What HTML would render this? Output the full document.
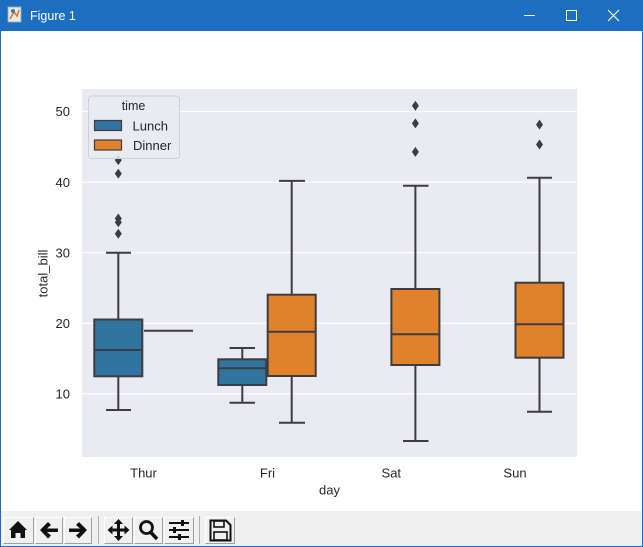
<!DOCTYPE html>
<html><head><meta charset="utf-8"><style>
html,body{margin:0;padding:0;background:#fff;}
body{width:643px;height:547px;overflow:hidden;position:relative;font-family:"Liberation Sans",Arial,sans-serif;}
svg{position:absolute;left:0;top:0;}
</style></head><body>
<svg width="643" height="547" viewBox="0 0 643 547" xmlns="http://www.w3.org/2000/svg" font-family="Liberation Sans, Arial, sans-serif">
<!-- window frame -->
<rect x="0" y="0" width="643" height="547" fill="#ffffff"/>
<rect x="0" y="0" width="643" height="31" fill="#1c6ec0"/>
<rect x="0" y="0" width="1" height="547" fill="#1c6ec0"/>
<rect x="642" y="0" width="1" height="547" fill="#1c6ec0"/>
<rect x="0" y="546" width="643" height="1" fill="#1c6ec0"/>
<!-- icon -->
<rect x="8" y="7" width="13" height="15" fill="#e8e8e8" stroke="#9ab" stroke-width="0.8"/>
<path d="M10 19 L14 12 L17 16 L19 10" stroke="#e07a1f" stroke-width="1.6" fill="none"/>
<circle cx="13" cy="11" r="2" fill="#3a77b5"/>
<text x="30" y="20" font-size="12.5" fill="#ffffff">Figure 1</text>
<!-- controls -->
<rect x="524" y="15" width="11" height="1" fill="#ffffff"/>
<rect x="566.5" y="10.5" width="10" height="10" fill="none" stroke="#ffffff" stroke-width="1"/>
<path d="M608 10 L619 21 M619 10 L608 21" stroke="#ffffff" stroke-width="1.1"/>

<!-- axes background -->
<rect x="82" y="89" width="495" height="368" fill="#eaeaf2"/>
<g stroke="#ffffff" stroke-width="1.2">
<line x1="82" x2="577" y1="111.5" y2="111.5"/>
<line x1="82" x2="577" y1="182.1" y2="182.1"/>
<line x1="82" x2="577" y1="252.7" y2="252.7"/>
<line x1="82" x2="577" y1="323.4" y2="323.4"/>
<line x1="82" x2="577" y1="394" y2="394"/>
</g>
<!-- y ticks -->
<g font-size="13" fill="#262626" text-anchor="end">
<text x="70" y="116.2">50</text>
<text x="70" y="186.8">40</text>
<text x="70" y="257.4">30</text>
<text x="70" y="328">20</text>
<text x="70" y="398.7">10</text>
</g>
<text transform="translate(47.5,273.5) rotate(-90)" font-size="13" fill="#262626" text-anchor="middle">total_bill</text>
<!-- x ticks -->
<g font-size="13" fill="#262626" text-anchor="middle">
<text x="143.5" y="477.6">Thur</text>
<text x="267.5" y="477.6">Fri</text>
<text x="391.3" y="477.6">Sat</text>
<text x="515" y="477.6">Sun</text>
<text x="329.5" y="494.5">day</text>
</g>

<g stroke="#3d3d3d" stroke-width="2" fill="none">
<!-- Thur Lunch -->
<line x1="118.3" x2="118.3" y1="252.7" y2="319.5"/>
<line x1="118.3" x2="118.3" y1="376.3" y2="410"/>
<line x1="106" x2="131" y1="252.7" y2="252.7"/>
<line x1="106" x2="131" y1="410" y2="410"/>
<rect x="94.3" y="319.5" width="48" height="56.8" fill="#3274a1"/>
<line x1="94.3" x2="142.3" y1="350" y2="350"/>
<!-- Thur Dinner -->
<line x1="144" x2="193" y1="330.7" y2="330.7"/>
<!-- Fri Lunch -->
<line x1="242.3" x2="242.3" y1="348" y2="359.3"/>
<line x1="242.3" x2="242.3" y1="385" y2="402.7"/>
<line x1="229.5" x2="255" y1="348" y2="348"/>
<line x1="229.5" x2="255" y1="402.7" y2="402.7"/>
<rect x="218.3" y="359.3" width="48" height="25.7" fill="#3274a1"/>
<line x1="218.3" x2="266.3" y1="368.3" y2="368.3"/>
<!-- Fri Dinner -->
<line x1="291.7" x2="291.7" y1="180.9" y2="294.7"/>
<line x1="291.7" x2="291.7" y1="376" y2="422.7"/>
<line x1="279" x2="305" y1="180.9" y2="180.9"/>
<line x1="279" x2="305" y1="422.7" y2="422.7"/>
<rect x="267.7" y="294.7" width="48" height="81.3" fill="#e1812c"/>
<line x1="267.7" x2="315.7" y1="331.7" y2="331.7"/>
<!-- Sat Dinner -->
<line x1="415.4" x2="415.4" y1="185.7" y2="289"/>
<line x1="415.4" x2="415.4" y1="365" y2="441"/>
<line x1="403" x2="428.5" y1="185.7" y2="185.7"/>
<line x1="403" x2="428.5" y1="441" y2="441"/>
<rect x="391.4" y="289" width="48" height="76" fill="#e1812c"/>
<line x1="391.4" x2="439.4" y1="334.3" y2="334.3"/>
<!-- Sun Dinner -->
<line x1="539.5" x2="539.5" y1="177.7" y2="282.7"/>
<line x1="539.5" x2="539.5" y1="357.7" y2="411.7"/>
<line x1="527" x2="552" y1="177.7" y2="177.7"/>
<line x1="527" x2="552" y1="411.7" y2="411.7"/>
<rect x="515.5" y="282.7" width="48" height="75" fill="#e1812c"/>
<line x1="515.5" x2="563.5" y1="324.3" y2="324.3"/>
</g>

<!-- outliers -->
<g fill="#3d3d3d">
<path d="M118.3 155.1 L121.8 160.1 L118.3 165.1 L114.8 160.1 Z"/>
<path d="M118.3 168.6 L121.8 173.6 L118.3 178.6 L114.8 173.6 Z"/>
<path d="M118.3 213.5 L121.8 218.5 L118.3 223.5 L114.8 218.5 Z"/>
<path d="M118.3 217.2 L121.8 222.2 L118.3 227.2 L114.8 222.2 Z"/>
<path d="M118.3 228.7 L121.8 233.7 L118.3 238.7 L114.8 233.7 Z"/>
<path d="M415.4 100.7 L418.9 105.7 L415.4 110.7 L411.9 105.7 Z"/>
<path d="M415.4 118.4 L418.9 123.4 L415.4 128.4 L411.9 123.4 Z"/>
<path d="M415.4 146.9 L418.9 151.9 L415.4 156.9 L411.9 151.9 Z"/>
<path d="M539.5 119.6 L543 124.6 L539.5 129.6 L536 124.6 Z"/>
<path d="M539.5 139.5 L543 144.5 L539.5 149.5 L536 144.5 Z"/>
</g>

<!-- legend -->
<rect x="88.5" y="96" width="91" height="62.5" rx="3" fill="#eaeaf2" fill-opacity="0.85" stroke="#cfcfd6" stroke-width="1"/>
<text x="133.5" y="110" font-size="12.5" fill="#262626" text-anchor="middle">time</text>
<rect x="94.5" y="120.5" width="27" height="10" fill="#3274a1" stroke="#3d3d3d" stroke-width="1.2"/>
<rect x="94.5" y="140" width="27" height="10" fill="#e1812c" stroke="#3d3d3d" stroke-width="1.2"/>
<text x="132.5" y="130.3" font-size="13" fill="#262626">Lunch</text>
<text x="133" y="149.8" font-size="13" fill="#262626">Dinner</text>

<!-- toolbar -->
<rect x="1" y="511" width="641" height="35" fill="#f0f0f0"/>
<g fill="none" stroke-width="1">
<path d="M3.5 543.5 V517.5 H33.5" stroke="#ffffff"/><path d="M33.5 517.5 V543.5 H3.5" stroke="#a0a0a0"/>
<path d="M35.5 543.5 V517.5 H62.5" stroke="#ffffff"/><path d="M62.5 517.5 V543.5 H35.5" stroke="#a0a0a0"/>
<path d="M64.5 543.5 V517.5 H91.5" stroke="#ffffff"/><path d="M91.5 517.5 V543.5 H64.5" stroke="#a0a0a0"/>
<path d="M104.5 543.5 V517.5 H132.5" stroke="#ffffff"/><path d="M132.5 517.5 V543.5 H104.5" stroke="#a0a0a0"/>
<path d="M134.5 543.5 V517.5 H162.5" stroke="#ffffff"/><path d="M162.5 517.5 V543.5 H134.5" stroke="#a0a0a0"/>
<path d="M164.5 543.5 V517.5 H193.5" stroke="#ffffff"/><path d="M193.5 517.5 V543.5 H164.5" stroke="#a0a0a0"/>
<path d="M205.5 543.5 V517.5 H234.5" stroke="#ffffff"/><path d="M234.5 517.5 V543.5 H205.5" stroke="#a0a0a0"/>
<line x1="98.5" x2="98.5" y1="516" y2="544" stroke="#b0b0b0"/>
<line x1="199.5" x2="199.5" y1="516" y2="544" stroke="#b0b0b0"/>
</g>
<!-- icons -->
<g fill="#111">
<path d="M9 530 L18 521 L27 530 L25 530 L25 538 L20.5 538 L20.5 533 L15.5 533 L15.5 538 L11 538 L11 530 Z"/>
<path d="M40 530 L48 522 L51 525 L47 528.5 L58 528.5 L58 532 L47 532 L51 535.5 L48 538.5 Z"/>
<path d="M87 530 L79 522 L76 525 L80 528.5 L69 528.5 L69 532 L80 532 L76 535.5 L79 538.5 Z"/>
<path d="M118.5 519 L123 524 L120 524 L120 528.5 L124.5 528.5 L124.5 525.5 L129.5 530 L124.5 534.5 L124.5 531.5 L120 531.5 L120 536 L123 536 L118.5 541 L114 536 L117 536 L117 531.5 L112.5 531.5 L112.5 534.5 L107.5 530 L112.5 525.5 L112.5 528.5 L117 528.5 L117 524 L114 524 Z"/>
</g>
<circle cx="146.5" cy="527.5" r="6" fill="none" stroke="#111" stroke-width="2.8"/>
<line x1="150.5" y1="532" x2="157" y2="539" stroke="#111" stroke-width="3.5"/>
<g stroke="#111" stroke-width="2">
<line x1="169" x2="189" y1="523" y2="523"/>
<line x1="169" x2="189" y1="530" y2="530"/>
<line x1="169" x2="189" y1="537" y2="537"/>
</g>
<g fill="#111">
<rect x="181" y="520" width="3" height="6"/>
<rect x="173" y="527" width="3" height="6"/>
<rect x="178" y="534" width="3" height="6"/>
</g>
<path d="M210.5 520.5 H226 L230.5 525 V540.5 H210.5 Z" fill="none" stroke="#111" stroke-width="2"/>
<rect x="214" y="521" width="10" height="6" fill="none" stroke="#111" stroke-width="1.6"/>
<rect x="214" y="532" width="13" height="8" fill="none" stroke="#111" stroke-width="1.6"/>
</svg>
</body></html>
